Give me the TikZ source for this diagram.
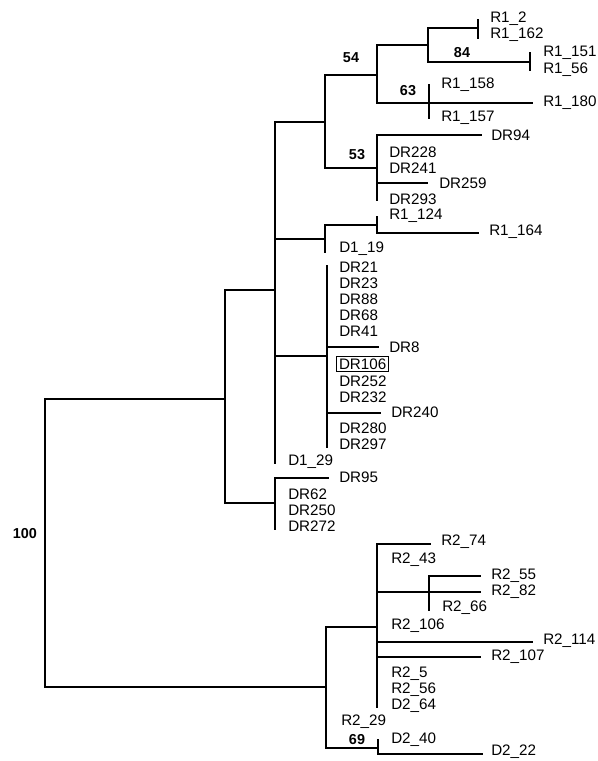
\documentclass[tikz,border=0pt]{standalone}
\usepackage{fontspec}
\setmainfont{Liberation Sans}
\begin{document}
\begin{tikzpicture}[x=0.5pt, y=-0.5pt,
			line width=1.25pt, line cap=rect,   % Aeste
			leaf/.style={anchor=west, inner sep=0pt, font=\fontsize{7.6}{9}\selectfont},
			boot/.style={inner sep=0pt, font=\fontsize{7.2}{8}\selectfont\bfseries}]
			\useasboundingbox (0,0) rectangle (598,761); % Bildbereich
			% innere Knoten
			\coordinate (root) at (45,543);
			\coordinate (nA) at (225,399);
			\coordinate (nA1) at (275,290);
			\coordinate (nA2) at (275,503);
			\coordinate (n54c) at (325,122);
			\coordinate (n54) at (377,75);
			\coordinate (n84) at (428,45);
			\coordinate (n63) at (429,103);
			\coordinate (n53) at (377,168);
			\coordinate (n124c) at (325,239);
			\coordinate (n124) at (377,225);
			\coordinate (nDR) at (327,356);
			\coordinate (nB) at (326,687);
			\coordinate (nB1) at (377,627);
			\coordinate (n55) at (429,592);
			\coordinate (nB2) at (378,748);
			% Blaetter (Astenden)
			\foreach \n/\x/\y in {tR12/478/28, tR1151/530/62, tR1180/532/103, tDR94/481/135,
				tDR259/427/183, tDR293/377/200, tR1124/377/217, tR1164/478/233, tD119/325/252,
				tDR21/327/266, tDR8/378/347, tDR240/380/413, tDR297/327/447, tD129/275/463,
				tDR95/328/478, tDR272/275/529, tR274/430/544, tR255/480/576, tR282/480/592,
				tR266/429/610, tR2114/532/642, tR2107/480/657, tD264/377/707, tD240/378/740,
				tD222/482/754}
				\coordinate (\n) at (\x,\y);
			% Aeste zeichnen
			\draw (root) |- (nA);
			\draw (root) |- (nB);
			\draw (nA) |- (nA1);
			\draw (nA) |- (nA2);
			\draw (nA1) |- (n54c);
			\draw (nA1) |- (n124c);
			\draw (nA1) |- (nDR);
			\draw (nA1) -- (tD129);
			\draw (n54c) |- (n54);
			\draw (n54c) |- (n53);
			\draw (n54) |- (n84);
			\draw (n54) |- (n63) -- (tR1180);
			\draw (n84) |- (tR12);
			\draw (n84) |- (tR1151);
			\draw (tR12) ++(0,-8) -- ++(0,18);
			\draw (tR1151) ++(0,-9) -- ++(0,17);
			\draw (n63) ++(0,-18) -- ++(0,33);
			\draw (n53) |- (tDR94);
			\draw (n53) |- (tDR259);
			\draw (n53) -- (tDR293);
			\draw (n124c) |- (n124);
			\draw (n124c) -- (tD119);
			\draw (n124) -- (tR1124);
			\draw (n124) |- (tR1164);
			\draw (nDR) -- (tDR21);
			\draw (nDR) -- (tDR297);
			\draw (nDR) |- (tDR8);
			\draw (nDR) |- (tDR240);
			\draw (nA2) |- (tDR95);
			\draw (nA2) -- (tDR272);
			\draw (nB) |- (nB1);
			\draw (nB) |- (nB2);
			\draw (nB1) |- (tR274);
			\draw (nB1) |- (n55);
			\draw (nB1) |- (tR2114);
			\draw (nB1) |- (tR2107);
			\draw (nB1) -- (tD264);
			\draw (n55) -- (tR282);
			\draw (n55) |- (tR255);
			\draw (n55) -- (tR266);
			\draw (nB2) -- (tD240);
			\draw (nB2) |- (tD222);
			% Bootstrap-Werte
			\foreach \n/\x/\y/\t in {b100/25/534/100, b54/351/58/54, b84/462/53/84,
				b63/408/91/63, b53/357/155/53, b69/357/740/69}
				\node[boot] (\n) at (\x,\y) {\t};
			% Beschriftung
			\foreach \n/\x/\y/\t in {lR12/489/19/R1\_2, lR1162/489/35/R1\_162,
				lR1151/542/53/R1\_151, lR156/542/70/R1\_56, lR1158/440/85/R1\_158,
				lR1180/542/103/R1\_180, lR1157/440/118/R1\_157, lDR94/490/135/DR94,
				lDR228/388/152/DR228, lDR241/388/168/DR241, lDR259/438/183/DR259,
				lDR293/388/199/DR293, lR1124/388/216/R1\_124, lR1164/488/232/R1\_164,
				lD119/338/249/D1\_19, lDR21/338/267/DR21, lDR23/338/283/DR23,
				lDR88/338/299/DR88, lDR68/338/315/DR68, lDR41/338/331/DR41,
				lDR8/388/347/DR8, lDR252/338/381/DR252, lDR232/338/397/DR232,
				lDR240/390/412/DR240, lDR280/338/428/DR280, lDR297/338/444/DR297,
				lD129/287/462/D1\_29, lDR95/338/477/DR95, lDR62/287/494/DR62,
				lDR250/287/510/DR250, lDR272/287/526/DR272, lR274/440/542/R2\_74,
				lR243/390/560/R2\_43, lR255/490/576/R2\_55, lR282/490/592/R2\_82,
				lR266/441/608/R2\_66, lR2106/390/626/R2\_106, lR2114/542/641/R2\_114,
				lR2107/490/657/R2\_107, lR25/390/674/R2\_5, lR256/390/690/R2\_56,
				lD264/390/706/D2\_64, lR229/340/722/R2\_29, lD240/390/740/D2\_40,
				lD222/490/752/D2\_22}
				\node[leaf] (\n) at (\x,\y) {\t};
			\node[leaf, draw, line width=0.6pt, inner sep=1.2pt] (lDR106) at (336,364) {DR106};
		\end{tikzpicture}
\end{document}
